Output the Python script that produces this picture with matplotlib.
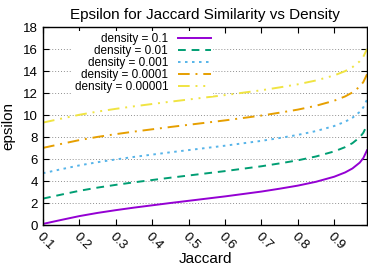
import numpy as np
import matplotlib.pyplot as plt

# Jaccard similarity values (x) and epsilon per density
jaccard = [0.10, 0.15, 0.20, 0.25, 0.30, 0.35, 0.40, 0.45, 0.50, 0.55, 0.60,
           0.65, 0.70, 0.75, 0.80, 0.85, 0.90, 0.93, 0.95, 0.97, 0.98, 0.99]
eps_d1 = [0.10, 0.46, 0.81, 1.10, 1.35, 1.58, 1.79, 2.00, 2.20, 2.40, 2.60,
          2.82, 3.04, 3.30, 3.58, 3.93, 4.39, 4.78, 5.14, 5.67, 6.09, 6.79]
eps_d2 = [2.40, 2.76, 3.11, 3.40, 3.65, 3.88, 4.09, 4.30, 4.50, 4.70, 4.90,
          5.12, 5.34, 5.60, 5.88, 6.23, 6.69, 7.08, 7.44, 7.97, 8.39, 9.09]
eps_d3 = [4.71, 5.07, 5.42, 5.71, 5.96, 6.19, 6.40, 6.61, 6.81, 7.01, 7.21,
          7.43, 7.65, 7.91, 8.19, 8.54, 9.00, 9.39, 9.75, 10.28, 10.70, 11.40]
eps_d4 = [7.01, 7.37, 7.72, 8.01, 8.26, 8.49, 8.70, 8.91, 9.11, 9.31, 9.51,
          9.73, 9.95, 10.21, 10.49, 10.84, 11.30, 11.69, 12.05, 12.58, 13.00, 13.70]
eps_d5 = [9.31, 9.67, 10.02, 10.31, 10.56, 10.79, 11.00, 11.21, 11.41, 11.61, 11.81,
          12.03, 12.25, 12.51, 12.79, 13.14, 13.60, 13.99, 14.35, 14.88, 15.30, 16.00]
labels = ["density = 0.1", "density = 0.01", "density = 0.001",
          "density = 0.0001", "density = 0.00001"]
xticks = [0.1, 0.2, 0.3, 0.4, 0.5, 0.6, 0.7, 0.8, 0.9]
yticks = [0, 2, 4, 6, 8, 10, 12, 14, 16, 18]

plt.rcParams['font.family'] = ['Liberation Sans', 'DejaVu Sans']
plt.rcParams['font.size'] = 9.5

fig = plt.figure(figsize=(3.68, 2.68), dpi=100)
ax = fig.add_axes([43/368, 1 - 225/268, 324/368, 198/268])

# gnuplot default colours and dash types
colors = ['#9400d3', '#009e73', '#56b4e9', '#e69f00', '#f0e442']
styles = ['-', (0, (4, 3)), (0, (1.3, 2.3)), (0, (6, 3, 1, 3)), (0, (6, 3, 1, 3, 1, 3))]
series = [eps_d1, eps_d2, eps_d3, eps_d4, eps_d5]
for ys, c, ls, lab in zip(series, colors, styles, labels):
    ax.plot(jaccard, ys, color=c, linestyle=ls, lw=1.4, label=lab)

ax.set_xlim(0.1, 0.99)
ax.set_ylim(0, 18)
ax.set_xticks(xticks)
ax.set_yticks(yticks)
ax.set_xticklabels([str(t) for t in xticks], rotation=-45, ha='left', va='top',
                   rotation_mode='anchor')
ax.tick_params(direction='in', length=4, width=0.8, top=True, right=True,
               colors='black', labelsize=9.5)
ax.tick_params(axis='x', pad=4)
for s in ax.spines.values():
    s.set_linewidth(1.0)

ax.yaxis.grid(True, color='#909090', linestyle=(0, (1, 2)), lw=0.7)
ax.set_axisbelow(True)

ax.set_title("Epsilon for Jaccard Similarity vs Density", fontsize=11, pad=6)
ax.set_xlabel("Jaccard", fontsize=11, labelpad=0)
ax.set_ylabel("epsilon", fontsize=11)
ax.yaxis.set_label_coords(-0.086, 0.5)

leg = ax.legend(loc='upper right', bbox_to_anchor=(0.525, 0.98), markerfirst=False,
                frameon=True, fancybox=False, framealpha=1, edgecolor='none',
                facecolor='white', borderpad=0.2, borderaxespad=0,
                handlelength=2.8, handletextpad=0.8, labelspacing=0.0,
                fontsize=8.5)

fig.savefig("out.png", dpi=100)
